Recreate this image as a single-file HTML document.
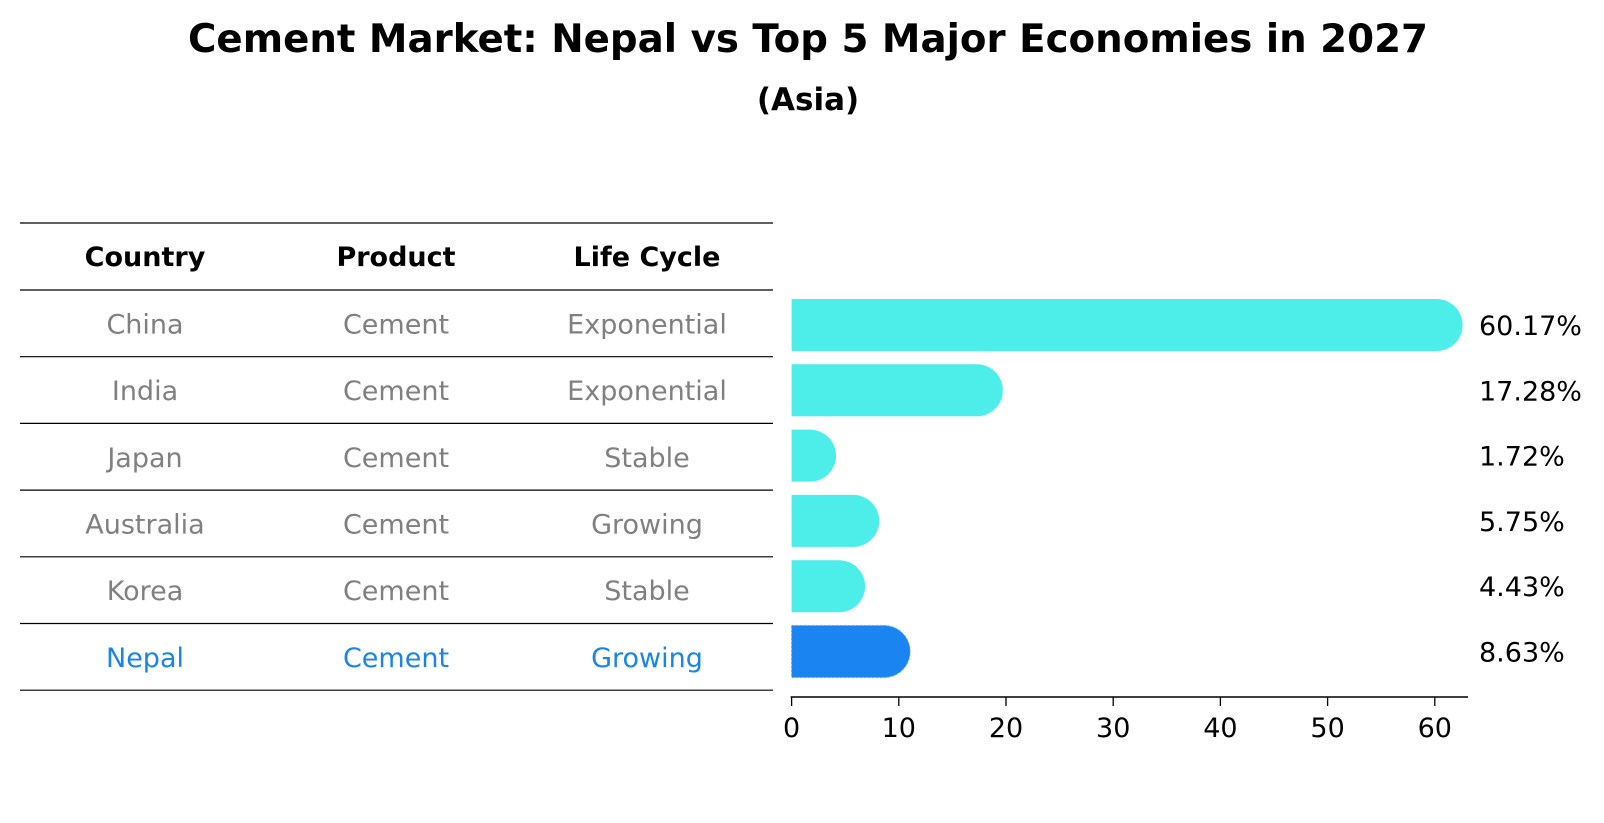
<!DOCTYPE html>
<html><head><meta charset="utf-8"><style>
body{margin:0;background:#fff;}
svg{display:block;font-family:"DejaVu Sans","Liberation Sans",sans-serif;}
</style></head><body>
<svg id="chart" width="1604" height="823" viewBox="0 0 1604 823">
<text x="808" y="52" text-anchor="middle" font-size="39" font-weight="bold" textLength="1240" lengthAdjust="spacingAndGlyphs">Cement Market: Nepal vs Top 5 Major Economies in 2027</text>
<text x="808" y="110" text-anchor="middle" font-size="31" font-weight="bold">(Asia)</text>
<g id="table"></g>
<g id="bars"></g>
<g id="axis"></g>
</svg>
<script>
const countries=["China","India","Japan","Australia","Korea","Nepal"];
const products=["Cement","Cement","Cement","Cement","Cement","Cement"];
const lifeCycles=["Exponential","Exponential","Stable","Growing","Stable","Growing"];
const values=[60.17,17.28,1.72,5.75,4.43,8.63];
const valueLabels=["60.17%","17.28%","1.72%","5.75%","4.43%","8.63%"];
const xTicks=[0,10,20,30,40,50,60];

const NS="http://www.w3.org/2000/svg";
function mk(tag,attrs,parent,text){const e=document.createElementNS(NS,tag);for(const k in attrs)e.setAttribute(k,attrs[k]);if(text!==undefined)e.textContent=text;parent.appendChild(e);return e;}
const x0=791.6,pxPer=(1434.8-791.6)/60;
function xs(v){return x0+v*pxPer;}
const rowTop=290,rowH=66.7,first=325,step=65.3;
function yc(i){return first+i*step;}
const FS=27;

const table=document.getElementById('table');
const cols=[145,396,647];
const lineYs=[223];
for(let i=0;i<=countries.length;i++)lineYs.push(rowTop+i*rowH);
lineYs.forEach((y,i)=>{const l=mk('line',{x1:20,x2:773,y1:y,y2:y,stroke:'#000','stroke-width':1.2},table);

});
["Country","Product","Life Cycle"].forEach((h,j)=>{const t=mk('text',{x:cols[j],y:266,'text-anchor':'middle','font-size':FS,'font-weight':'bold'},table,h);

});
countries.forEach((c,i)=>{const y=rowTop+i*rowH+rowH/2+10;const col=c==="Nepal"?"#1a85e8":"#808080";
[c,products[i],lifeCycles[i]].forEach((s,j)=>{const t=mk('text',{x:cols[j],y:y,'text-anchor':'middle','font-size':FS,fill:col},table,s);

});});

const bars=document.getElementById('bars');
const r=26;
values.forEach((v,i)=>{const y=yc(i);const xe=xs(v);const nep=countries[i]==="Nepal";
const d=`M${x0},${y-r} L${xe},${y-r} A${r},${r} 0 0 1 ${xe},${y+r} L${x0},${y+r} Z`;
const p=mk('path',{d:d,fill:nep?'#1a85f0':'#4deeea'},bars);
if(nep){p.setAttribute('stroke','#5aa8f5');p.setAttribute('stroke-dasharray','2,2');p.setAttribute('stroke-width','1');}


const t=mk('text',{x:1479,y:y+10,'font-size':FS},bars,valueLabels[i]);

});

const axis=document.getElementById('axis');
mk('line',{x1:x0-1,x2:1468,y1:697,y2:697,stroke:'#000','stroke-width':1.5},axis);
xTicks.forEach(v=>{const x=xs(v);mk('line',{x1:x,x2:x,y1:697,y2:706,stroke:'#000','stroke-width':1.3},axis);
const t=mk('text',{x:x,y:737,'text-anchor':'middle','font-size':FS},axis,String(v));

});
</script>
</body></html>
